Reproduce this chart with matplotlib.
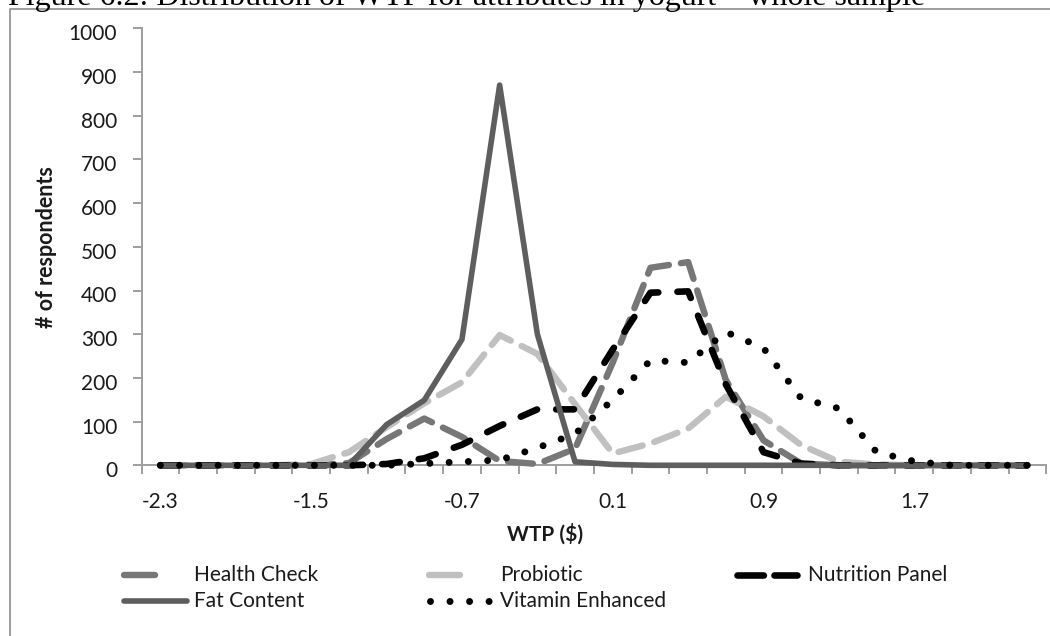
import matplotlib
matplotlib.use("Agg")
import matplotlib.pyplot as plt
from matplotlib.lines import Line2D
from matplotlib.transforms import ScaledTranslation

# ---------------- data ----------------
categories = [-2.3, -2.1, -1.9, -1.7, -1.5, -1.3, -1.1, -0.9, -0.7, -0.5, -0.3, -0.1,
              0.1, 0.3, 0.5, 0.7, 0.9, 1.1, 1.3, 1.5, 1.7, 1.9, 2.1, 2.3]
health_check = [0, 0, 0, 0, 0, 5, 60, 107, 65, 10, 3, 38, 235, 452, 465, 195, 57, 4, 0, 0, 0, 0, 0, 0]
probiotic = [0, 0, 0, 0, 3, 30, 87, 142, 190, 298, 255, 140, 27, 50, 84, 157, 112, 46, 8, 2, 0, 0, 0, 0]
nutrition_panel = [0, 0, 0, 0, 0, 0, 3, 16, 47, 90, 128, 128, 265, 395, 398, 185, 30, 4, 0, 0, 0, 0, 0, 0]
fat_content = [0, 0, 0, 0, 0, 0, 93, 149, 288, 870, 300, 8, 2, 0, 0, 0, 0, 0, 0, 0, 0, 0, 0, 0]
vitamin_enhanced = [0, 0, 0, 0, 0, 0, 0, 4, 8, 12, 40, 72, 150, 240, 235, 305, 268, 153, 130, 30, 9, 0, 0, 0]
series_names = ["Health Check", "Probiotic", "Nutrition Panel", "Fat Content", "Vitamin Enhanced"]
y_ticks = [0, 100, 200, 300, 400, 500, 600, 700, 800, 900, 1000]
x_label_every = 4
title_text = "Figure 6.2: Distribution of WTP for attributes in yogurt \u2013 whole sample"

# ---------------- styles ----------------
W, H = 1050, 636
DPI = 100
PX = 72.0 / DPI  # points per pixel
FONT = "Lato"
AX_GRAY = "#a0a0a0"
TXT = "#1a1a1a"

series_values = [health_check, probiotic, nutrition_panel, fat_content, vitamin_enhanced]
series_style = [
    dict(color="#777777", lw=6.4 * PX, dashes=(3.9, 1.9)),
    dict(color="#c0c0c0", lw=6.4 * PX, dashes=(3.9, 1.9)),
    dict(color="#000000", lw=6.6 * PX, dashes=(2.7, 2.9)),
    dict(color="#5e5e5e", lw=5.6 * PX, dashes=None),
    dict(color="#000000", lw=7.0 * PX, dashes=(0.001, 2.75)),
]

def fx(px):
    return px / W

def fy(py):
    return 1 - py / H

fig = plt.figure(figsize=(W / DPI, H / DPI), dpi=DPI)
fig.patch.set_facecolor("white")

# chart-area border (only left/top visible in the crop)
fig.add_artist(Line2D([fx(10), fx(10), fx(1060)], [fy(700), fy(9), fy(9)],
                      transform=fig.transFigure, color=AX_GRAY, lw=2.0 * PX))

# title (partially cut off at the top, as in the reference crop)
title = fig.text(fx(8), fy(5), title_text, family="Liberation Serif", fontsize=21,
                 ha="left", va="baseline", color="black")
fig.canvas.draw()
w = title.get_window_extent().width
title.set_fontsize(21 * 917.0 / w)

# ---------------- axes ----------------
left, right, top, bottom = 141.5, 1046.3, 28.3, 465.3
ax = fig.add_axes([fx(left), fy(bottom), (right - left) / W, (bottom - top) / H])
ax.set_facecolor("none")

x = list(range(len(categories)))
for i, (name, vals, st) in enumerate(zip(series_names, series_values, series_style)):
    kw = dict(color=st["color"], lw=st["lw"], label=name, clip_on=False, zorder=3 + i,
              solid_capstyle="round", dash_capstyle="round", solid_joinstyle="round",
              dash_joinstyle="round")
    line, = ax.plot(x, vals, **kw)
    if st["dashes"] is not None:
        line.set_dashes(st["dashes"])

ax.set_xlim(-0.5, len(categories) - 0.5)
ax.set_ylim(0, 1000)

for s in ["top", "right"]:
    ax.spines[s].set_visible(False)
for s in ["left", "bottom"]:
    ax.spines[s].set_color(AX_GRAY)
    ax.spines[s].set_linewidth(2.0 * PX)
    ax.spines[s].set_zorder(2)

lab_idx = list(range(0, len(categories), x_label_every))
ax.set_xticks(lab_idx)
ax.set_xticklabels([f"{categories[i]:.1f}" for i in lab_idx], family=FONT, fontsize=15, color=TXT)
ax.set_xticks([i - 0.5 for i in range(len(categories) + 1)], minor=True)
ax.tick_params(axis="x", which="major", length=0, pad=19)
ax.tick_params(axis="x", which="minor", length=6.5, width=2.0 * PX, color=AX_GRAY, direction="out")

ax.set_yticks(y_ticks)
ax.set_yticklabels([str(v) for v in y_ticks], family=FONT, fontsize=15, color=TXT)
ax.tick_params(axis="y", which="major", length=6.5, width=2.0 * PX, color=AX_GRAY,
               direction="out", pad=11)
off = ScaledTranslation(0, -4.0 / DPI, fig.dpi_scale_trans)
for lab in ax.get_yticklabels():
    lab.set_transform(lab.get_transform() + off)

ax.set_ylabel("# of respondents", family=FONT, fontsize=15.5, fontweight="bold", color=TXT,
              va="center", ha="center")
ax.yaxis.set_label_coords((47 - left) / (right - left), 0.5)
ax.set_xlabel("WTP ($)", family=FONT, fontsize=15, fontweight="bold", color=TXT,
              va="center", ha="center")
ax.xaxis.set_label_coords((545 - left) / (right - left), (bottom - 534) / (bottom - top))

# ---------------- legend (Excel-like 3-column layout) ----------------
# entries: (series index, handle x0, handle x1, text x, row y, handle dashes)
legend_layout = [
    (0, 124.0, 155.0, 194, 575, None),
    (1, 428.5, 459.5, 500, 575, None),
    (2, 736.5, 797.0, 808, 575, (4.0, 1.6)),
    (3, 124.0, 187.0, 194, 601, None),
    (4, 430.0, 489.5, 500, 601, (0.001, 2.79)),
]
for idx, x0, x1, tx, ry, dsh in legend_layout:
    st = series_style[idx]
    ln = Line2D([fx(x0), fx(x1)], [fy(ry), fy(ry)], transform=fig.transFigure,
                color=st["color"], lw=st["lw"], solid_capstyle="round",
                dash_capstyle="round")
    if dsh is not None:
        ln.set_dashes(dsh)
    fig.add_artist(ln)
    fig.text(fx(tx), fy(ry), series_names[idx], family=FONT, fontsize=15, color=TXT,
             ha="left", va="center")

fig.savefig("out.png", dpi=DPI, facecolor="white")
